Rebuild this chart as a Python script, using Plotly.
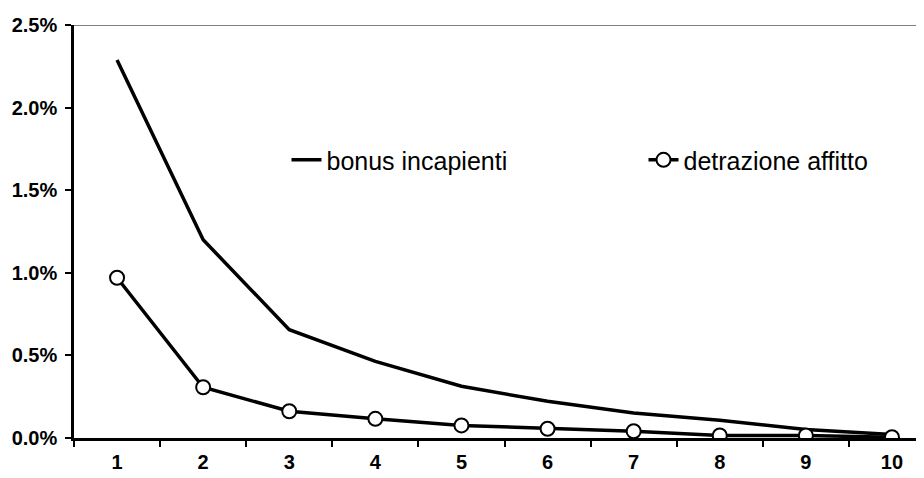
import plotly.graph_objects as go

deciles = ["1", "2", "3", "4", "5", "6", "7", "8", "9", "10"]
bonus_incapienti = [0.02288, 0.0120, 0.00656, 0.00464, 0.00313, 0.00222, 0.00152, 0.00108, 0.00051, 0.00021]
detrazione_affitto = [0.00970, 0.00307, 0.00162, 0.00116, 0.00076, 0.00056, 0.00041, 0.00015, 0.00015, 0.00005]
y_ticks = [0.0, 0.005, 0.010, 0.015, 0.020, 0.025]

FONT = "Arial, Liberation Sans, sans-serif"

# the page body adds an 8px margin, so the figure is sized a bit smaller
fig = go.Figure()
fig.add_trace(
    go.Scatter(
        x=deciles,
        y=bonus_incapienti,
        mode="lines",
        name="bonus incapienti",
        line={"color": "black", "width": 3.5},
    )
)
fig.add_trace(
    go.Scatter(
        x=deciles,
        y=detrazione_affitto,
        mode="lines+markers",
        name="detrazione affitto",
        line={"color": "black", "width": 3.5},
        marker={"symbol": "circle", "size": 14, "color": "white",
                "line": {"color": "black", "width": 2}},
    )
)

# gray line along the top of the plot area (Excel-style 2.5% gridline)
fig.add_shape(
    type="line", xref="paper", yref="y", x0=0, x1=1, y0=0.025, y1=0.025,
    line={"color": "#808080", "width": 2}, layer="below",
)

fig.update_layout(
    width=916,
    height=470,
    margin={"l": 66, "r": 0, "t": 17, "b": 40, "autoexpand": False},
    paper_bgcolor="white",
    plot_bgcolor="white",
    showlegend=True,
    font={"family": FONT, "color": "black"},
    legend={
        "orientation": "h",
        "x": 0.25,
        "xanchor": "left",
        "y": 0.673,
        "yanchor": "middle",
        "font": {"size": 25, "family": FONT},
        "entrywidth": 312,
        "bgcolor": "rgba(0,0,0,0)",
    },
    xaxis={
        "type": "category",
        "range": [-0.5, 9.372],
        "showline": True,
        "linecolor": "black",
        "linewidth": 2.5,
        "ticks": "outside",
        "tickson": "boundaries",
        "ticklen": 6,
        "tickwidth": 2,
        "tickcolor": "black",
        "showgrid": False,
        "tickfont": {"size": 20, "family": FONT, "weight": "bold"},
        "ticklabelstandoff": 4,
    },
    yaxis={
        "range": [0, 0.025],
        "tickvals": y_ticks,
        "tickformat": ".1%",
        "showline": True,
        "linecolor": "black",
        "linewidth": 2.5,
        "ticks": "outside",
        "ticklen": 6,
        "tickwidth": 2,
        "tickcolor": "black",
        "showgrid": False,
        "zeroline": False,
        "tickfont": {"size": 20, "family": FONT, "weight": "bold"},
        "ticklabelstandoff": 4,
    },
)

fig.write_html("out.html")
